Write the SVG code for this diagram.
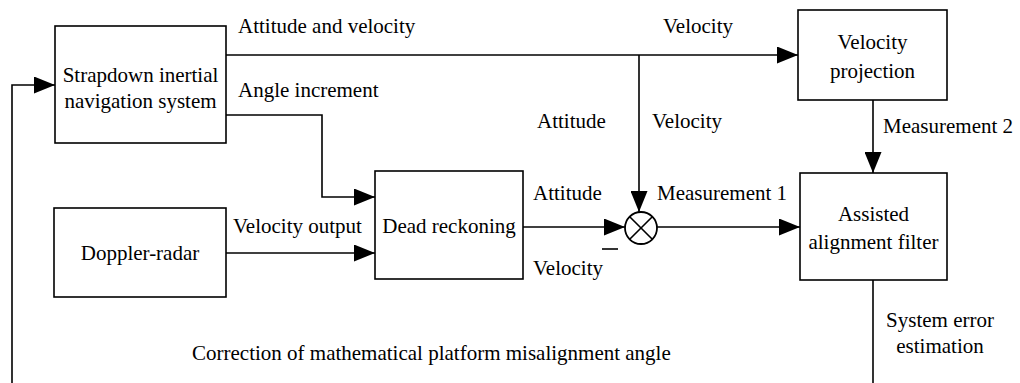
<svg xmlns="http://www.w3.org/2000/svg" width="1020" height="383" viewBox="0 0 1020 383">
  <style>
    .box { fill: #ffffff; stroke: #000000; stroke-width: 1.6; }
    .wire { fill: none; stroke: #000000; stroke-width: 1.6; }
    text { font-family: "Liberation Serif", "Times New Roman", serif; font-size: 21px; fill: #000000; }
    .c { text-anchor: middle; }
  </style>
  <defs>
    <marker id="arrow" viewBox="0 0 21 17" refX="21" refY="8.5" markerWidth="21" markerHeight="17" markerUnits="userSpaceOnUse" orient="auto">
      <path d="M0,0 L21,8.5 L0,17 Z" fill="#000000"/>
    </marker>
  </defs>
  <rect width="1020" height="383" fill="#ffffff"/>

  <!-- connectors -->
  <g id="connectors">
    <!-- attitude and velocity bus to velocity projection -->
    <path class="wire" d="M226,55 H798" marker-end="url(#arrow)"/>
    <!-- velocity tap down to the comparator -->
    <path class="wire" d="M639,55 V212" marker-end="url(#arrow)"/>
    <!-- angle increment to dead reckoning -->
    <path class="wire" d="M226,115 H322 V197 H375" marker-end="url(#arrow)"/>
    <!-- doppler velocity output to dead reckoning -->
    <path class="wire" d="M226,253 H375" marker-end="url(#arrow)"/>
    <!-- dead reckoning to comparator -->
    <path class="wire" d="M523,227 H625" marker-end="url(#arrow)"/>
    <!-- comparator to filter -->
    <path class="wire" d="M657,227 H800" marker-end="url(#arrow)"/>
    <!-- measurement 2 -->
    <path class="wire" d="M873,100 V173" marker-end="url(#arrow)"/>
    <!-- system error estimation output -->
    <path class="wire" d="M873,280 V383"/>
    <!-- platform misalignment correction feedback -->
    <path class="wire" d="M12,383 V85 H55" marker-end="url(#arrow)"/>
    <!-- minus sign at comparator -->
    <path class="wire" d="M602,249 H618"/>
  </g>

  <g id="sins">
    <rect class="box" x="55" y="26" width="171" height="117"/>
    <text class="c" x="140.5" y="82">Strapdown inertial</text>
    <text class="c" x="140.5" y="108">navigation system</text>
  </g>

  <g id="doppler">
    <rect class="box" x="54" y="208" width="172" height="89"/>
    <text class="c" x="140" y="260">Doppler-radar</text>
  </g>

  <g id="dead-reckoning">
    <rect class="box" x="375" y="171" width="148" height="108"/>
    <text class="c" x="449" y="233">Dead reckoning</text>
  </g>

  <g id="comparator">
    <circle cx="641" cy="228" r="16" fill="#ffffff" stroke="#000000" stroke-width="1.8"/>
    <path class="wire" d="M629.7,216.7 L652.3,239.3 M652.3,216.7 L629.7,239.3"/>
  </g>

  <g id="velocity-projection">
    <rect class="box" x="798" y="10" width="149" height="90"/>
    <text class="c" x="872.5" y="49">Velocity</text>
    <text class="c" x="872.5" y="78">projection</text>
  </g>

  <g id="filter">
    <rect class="box" x="800" y="173" width="147" height="107"/>
    <text class="c" x="873.5" y="221">Assisted</text>
    <text class="c" x="873.5" y="249">alignment filter</text>
  </g>

  <g id="labels">
    <text x="238" y="33">Attitude and velocity</text>
    <text x="238" y="97">Angle increment</text>
    <text x="663" y="33">Velocity</text>
    <text x="537" y="128">Attitude</text>
    <text x="652" y="128">Velocity</text>
    <text x="533" y="200">Attitude</text>
    <text x="657" y="200">Measurement 1</text>
    <text x="233" y="233">Velocity output</text>
    <text x="533" y="275">Velocity</text>
    <text x="883" y="133">Measurement 2</text>
    <text class="c" x="940" y="327">System error</text>
    <text class="c" x="940" y="353">estimation</text>
    <text x="192" y="360">Correction of mathematical platform misalignment angle</text>
  </g>
</svg>
